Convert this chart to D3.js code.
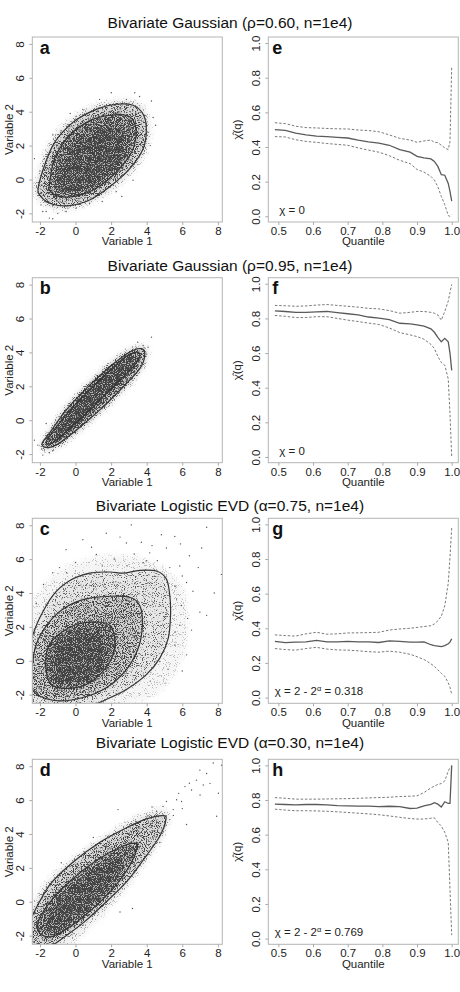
<!DOCTYPE html>
<html>
<head>
<meta charset="utf-8">
<script src="https://cdnjs.cloudflare.com/ajax/libs/d3/7.8.5/d3.min.js"></script>
<style>
  body { margin: 0; background: #fff; }
  svg { display: block; }
</style>
</head>
<body>
<svg id="chart"></svg>
<script>
// ---------- data ----------
const titles = [
  'Bivariate Gaussian (\u03C1=0.60, n=1e4)',
  'Bivariate Gaussian (\u03C1=0.95, n=1e4)',
  'Bivariate Logistic EVD (\u03B1=0.75, n=1e4)',
  'Bivariate Logistic EVD (\u03B1=0.30, n=1e4)'
];
const scatterLetters = ['a', 'b', 'c', 'd'];
const chiLetters = ['e', 'f', 'g', 'h'];

const varTicks = [-2, 0, 2, 4, 6, 8];
const varXDomain = [-2.43, 8.25];
const varYDomain = [-2.51, 8.41];
const quantileTicks = [0.5, 0.6, 0.7, 0.8, 0.9, 1.0];
const chiTicks = [0, 0.2, 0.4, 0.6, 0.8, 1.0];
const quantileDomain = [0.471, 1.019];
const chiDomain = [-0.033, 1.035];

// panel a: density contours + cloud outline (variable 1, variable 2)
const contourA2 = [[-2.07,-0.33],[-1.28,2.0],[-0.15,3.37],[1.17,4.14],[2.29,4.44],[3.23,4.38],[3.80,3.85],[3.98,2.98],[3.80,1.81],[3.05,0.64],[1.92,-0.43],[0.79,-1.21],[-0.34,-1.54],[-1.28,-1.46],[-1.94,-1.01]];
const contourA1 = [[-1.47,-0.33],[-1.18,1.23],[-0.34,2.59],[0.79,3.46],[1.92,3.79],[2.95,3.75],[3.33,3.27],[3.38,2.39],[3.05,1.42],[2.11,0.25],[0.98,-0.62],[-0.15,-1.01],[-1.09,-0.95],[-1.47,-0.62]];
const haloA = [[-2.3,-0.4],[-1.5,2.1],[-0.3,3.6],[1.1,4.4],[2.3,4.7],[3.4,4.6],[4.0,4.0],[4.2,3.0],[4.0,1.7],[3.2,0.4],[2.0,-0.7],[0.8,-1.4],[-0.4,-1.8],[-1.4,-1.7],[-2.1,-1.2]];
const coreA = [[-1.0,-0.3],[-0.8,0.9],[-0.1,2.0],[0.9,2.8],[2.0,3.1],[2.7,2.8],[2.8,1.9],[2.3,0.8],[1.3,-0.1],[0.2,-0.6],[-0.6,-0.7]];
const densityA = [0.22, 0.55, 0.8, 0.97];
const sparseA = [[2.01,5.12],[3.33,5.12],[4.27,4.63],[4.36,3.66],[4.08,2.78],[-1.28,2.63],[-1.75,1.23],[-2.31,1.23],[-1.94,-1.5],[-1.65,-1.89],[-1.28,-2.32],[0.04,-1.69],[-0.53,-1.89],[3.98,2.39],[2.86,4.73],[1.35,4.73],[0.41,4.14],[-0.81,2.88],[3.23,-0.04],[2.29,-0.72],[0.79,-1.4],[-1.0,-2.0],[4.5,3.2],[3.6,4.9],[-2.0,0.5],[2.6,-1.0],[1.5,-1.3],[-0.3,3.9],[4.2,2.0],[-1.84,-1.89],[-1.47,-2.28],[-0.43,-1.69]];

// panel b
const contourB2 = [[-1.88,-1.37],[-1.47,-0.78],[-0.53,0.59],[0.6,1.86],[1.92,3.14],[3.05,4.02],[3.7,4.22],[3.89,3.82],[3.61,3.04],[2.67,1.96],[1.35,0.59],[0.04,-0.59],[-1.09,-1.47],[-1.65,-1.61]];
const contourB1 = [[-1.65,-1.27],[-1.0,-0.29],[0.04,0.98],[1.35,2.35],[2.67,3.63],[3.42,4.02],[3.61,3.76],[3.23,3.14],[2.11,1.96],[0.79,0.59],[-0.34,-0.49],[-1.28,-1.33]];
const haloB = [[-2.0,-1.6],[-1.6,-0.8],[-0.7,0.6],[0.5,2.0],[1.8,3.3],[3.0,4.2],[3.8,4.4],[4.1,4.0],[3.8,3.1],[2.9,1.9],[1.5,0.5],[0.2,-0.7],[-0.9,-1.6],[-1.6,-1.8]];
const coreB = [[-1.3,-0.9],[-0.5,0.4],[0.6,1.8],[1.8,3.0],[2.9,3.7],[3.2,3.5],[2.6,2.4],[1.4,1.0],[0.2,-0.3],[-0.9,-1.2]];
const densityB = [0.3, 0.7, 0.9, 1.0];
const sparseB = [[-2.31,-1.18],[-2.12,-1.47],[-1.84,-2.06],[-1.47,-1.92],[-1.28,-1.8],[4.08,4.31],[4.27,4.9],[3.8,4.41],[3.23,2.35],[-1.65,-0.2],[-1.9,-1.7],[4.0,3.9],[-1.5,-1.5],[3.5,4.6]];

// panel c (outer contour runs off the plot region)
const contourC3 = [[-2.69,0.35],[-2.46,1.32],[-2.03,2.49],[-1.28,3.85],[-0.34,4.72],[0.79,5.17],[1.92,5.24],[2.67,5.17],[3.61,5.34],[4.55,5.3],[5.11,4.82],[5.3,3.84],[5.34,2.68],[5.21,1.32],[4.74,0.16],[3.98,-0.82],[2.86,-1.69],[1.54,-2.37],[0.6,-2.76]];
const contourC2 = [[-2.46,-0.72],[-2.22,0.93],[-1.47,2.29],[-0.53,3.17],[0.6,3.65],[1.92,3.81],[3.05,3.75],[3.61,3.26],[3.76,2.10],[3.52,0.74],[2.86,-0.52],[1.73,-1.59],[0.41,-2.17],[-0.9,-2.37],[-2.03,-2.08],[-2.46,-1.59]];
const contourC1 = [[-1.65,-0.52],[-1.56,0.74],[-1.0,1.51],[0.04,2.14],[1.17,2.29],[1.92,2.10],[2.2,1.32],[2.11,0.35],[1.54,-0.62],[0.6,-1.40],[-0.53,-1.63],[-1.37,-1.40]];
const haloC = [[-2.6,-2.5],[-2.6,2.5],[-1.5,4.8],[0,5.8],[2,6.2],[4,6.0],[5.7,4.8],[6.3,3],[6.1,0.5],[5,-1.5],[3,-2.5]];
const coreC = [[-1.3,-0.8],[-1.2,0.6],[-0.6,1.3],[0.4,1.7],[1.2,1.6],[1.7,0.8],[1.5,-0.3],[0.8,-1.1],[-0.3,-1.4],[-1.0,-1.3]];
const densityC = [0.13, 0.32, 0.58, 0.82, 0.97];
const sparseC = [[3.14,8.02],[7.37,7.88],[7.09,6.66],[8.2,5.1],[4.83,7.44],[5.58,7.34],[5.11,6.66],[3.8,5.79],[2.86,6.95],[-0.53,6.56],[1.17,6.27],[5.86,5.59],[6.24,4.62],[6.99,2.87],[6.52,1.81],[5.86,2.1],[6.24,0.35],[5.96,3.26],[7.37,2.68],[-1.28,5.2],[-0.9,5.5],[4.17,6.37],[1.73,7.53],[0.41,7.15],[4.55,4.23],[5.68,3.65],[5.58,0.93],[4.74,-0.04],[2.2,6.0],[3.3,6.3],[4.6,5.9],[5.3,5.5],[6.6,4.1],[6.3,2.5],[5.6,1.7],[6.0,-0.6],[5.2,-0.5],[4.2,-1.2],[0.0,5.8],[-1.8,4.5],[-2.2,3.4],[0.9,6.7],[2.5,7.3],[3.7,7.0],[6.9,5.5],[7.8,4.0],[6.4,6.2],[4.0,5.9],[5.0,4.9],[5.6,4.4],[6.0,5.0],[2.9,5.6],[1.5,5.6],[-0.5,5.2],[4.3,6.8],[5.9,6.9]];

// panel d (outer contour runs off the plot region)
const contourD2 = [[-2.69,-1.3],[-2.46,-0.87],[-1.47,0.97],[-0.15,2.33],[1.35,3.5],[2.86,4.37],[3.98,4.89],[4.92,5.09],[5.08,4.85],[4.74,3.88],[3.98,2.72],[2.86,1.17],[1.54,-0.19],[0.41,-1.26],[-0.71,-2.14],[-1.3,-2.6],[-1.6,-2.9]];
const contourD1 = [[-2.12,-1.55],[-2.03,-0.97],[-1.28,0.19],[-0.15,1.36],[1.17,2.43],[2.48,3.2],[3.33,3.46],[3.46,3.2],[3.05,2.14],[2.11,0.78],[0.98,-0.39],[-0.15,-1.36],[-1.28,-2.04],[-1.94,-1.94]];
const haloD = [[-2.6,-2.6],[-2.6,-0.5],[-1.6,1.2],[0,2.7],[1.8,4.0],[3.5,5.1],[4.8,5.5],[5.3,5.0],[4.8,3.6],[3.7,2.0],[2.2,0.0],[0.8,-1.5],[-0.6,-2.6]];
const coreD = [[-1.6,-1.5],[-1.4,-0.6],[-0.6,0.5],[0.5,1.5],[1.7,2.3],[2.5,2.5],[2.4,1.7],[1.5,0.4],[0.5,-0.6],[-0.5,-1.5],[-1.2,-1.9]];
const densityD = [0.2, 0.52, 0.8, 0.97];
const sparseD = [[7.74,8.19],[8.21,8.06],[6.99,7.77],[7.37,7.57],[6.8,7.18],[7.18,6.89],[7.56,6.99],[8.03,6.41],[7.93,5.05],[6.52,6.6],[6.15,6.8],[5.68,6.02],[5.11,5.92],[5.96,5.92],[4.92,5.63],[5.49,5.44],[4.55,5.34],[5.3,4.85],[5.02,4.47],[4.74,3.5],[2.39,5.44],[6.24,4.56],[-1.84,-2.14],[-2.22,-1.75],[5.8,6.4],[6.4,7.0],[7.0,6.3],[5.5,5.1],[6.0,5.5],[4.3,5.6],[-0.8,2.3],[1.0,3.8],[3.2,-0.4],[2.5,-0.6]];

// chi(q) estimates with the dashed confidence limits
const quantiles = [0.49,0.52,0.55,0.58,0.61,0.64,0.67,0.70,0.73,0.76,0.79,0.82,0.85,0.88,0.90,0.92,0.94,0.95,0.96,0.97,0.98,0.99,0.995,1.0];
const chiE   = [0.50,0.496,0.48,0.47,0.463,0.46,0.456,0.452,0.44,0.43,0.422,0.41,0.385,0.37,0.346,0.337,0.331,0.317,0.288,0.24,0.237,0.19,0.144,0.087];
const chiEHi = [0.54,0.535,0.52,0.512,0.51,0.507,0.505,0.504,0.498,0.495,0.488,0.47,0.45,0.44,0.427,0.435,0.44,0.427,0.425,0.41,0.395,0.385,0.43,0.865];
const chiELo = [0.46,0.458,0.442,0.432,0.427,0.42,0.415,0.41,0.395,0.382,0.37,0.35,0.323,0.304,0.27,0.255,0.23,0.21,0.17,0.115,0.067,0.004,0.0,0.01];
const chiF   = [0.844,0.84,0.835,0.835,0.838,0.84,0.833,0.827,0.82,0.808,0.802,0.793,0.772,0.768,0.763,0.755,0.74,0.72,0.69,0.665,0.685,0.665,0.6,0.50];
const chiFHi = [0.875,0.873,0.87,0.872,0.877,0.88,0.875,0.87,0.865,0.858,0.855,0.845,0.83,0.835,0.84,0.84,0.835,0.83,0.82,0.79,0.84,0.9,0.95,0.996];
const chiFLo = [0.817,0.812,0.805,0.805,0.81,0.81,0.80,0.79,0.782,0.773,0.765,0.745,0.718,0.705,0.695,0.68,0.65,0.626,0.58,0.545,0.53,0.45,0.25,0.0];
const chiG   = [0.325,0.317,0.32,0.322,0.33,0.322,0.322,0.325,0.322,0.322,0.318,0.327,0.325,0.32,0.32,0.322,0.305,0.30,0.297,0.294,0.30,0.311,0.32,0.34];
const chiGHi = [0.362,0.358,0.355,0.368,0.377,0.366,0.368,0.373,0.374,0.375,0.377,0.39,0.396,0.40,0.405,0.41,0.415,0.425,0.443,0.47,0.53,0.66,0.81,0.98];
const chiGLo = [0.283,0.277,0.274,0.283,0.29,0.28,0.275,0.274,0.27,0.265,0.262,0.268,0.262,0.25,0.236,0.22,0.195,0.18,0.16,0.14,0.123,0.085,0.06,0.019];
const chiH   = [0.776,0.774,0.772,0.774,0.774,0.772,0.768,0.766,0.765,0.765,0.762,0.764,0.762,0.751,0.753,0.766,0.775,0.785,0.776,0.76,0.79,0.78,0.78,1.0];
const chiHHi = [0.814,0.81,0.805,0.805,0.805,0.806,0.807,0.808,0.81,0.812,0.814,0.816,0.82,0.822,0.824,0.843,0.87,0.88,0.89,0.895,0.91,0.967,0.985,0.996];
const chiHLo = [0.747,0.742,0.738,0.738,0.737,0.735,0.732,0.728,0.724,0.72,0.715,0.708,0.70,0.693,0.69,0.69,0.695,0.697,0.67,0.65,0.613,0.556,0.287,0.02];

const chiNotes = [
  { main: '\u03C7 = 0' },
  { main: '\u03C7 = 0' },
  { main: '\u03C7 = 2 - 2', sup: '\u03B1', tail: ' = 0.318' },
  { main: '\u03C7 = 2 - 2', sup: '\u03B1', tail: ' = 0.769' }
];

// ---------- layout ----------
const width = 460, height = 992;
const rowTop = [37, 277.7, 518.3, 759.3];
const titleBase = [27.5, 271, 510.5, 748];
const boxW = 190, boxH = 185;
const leftX = 32.3, rightX = 268.3;
const fontFamily = '"Liberation Sans", Arial, Helvetica, sans-serif';

const scatterPanels = [
  { shapes: [haloA, contourA2, contourA1, coreA], density: densityA, lines: [contourA2, contourA1], closed: [true, true], points: sparseA },
  { shapes: [haloB, contourB2, contourB1, coreB], density: densityB, lines: [contourB2, contourB1], closed: [true, true], points: sparseB },
  { shapes: [haloC, contourC3.concat([[-2.9, -3.0]]), contourC2, contourC1, coreC], density: densityC, lines: [contourC3, contourC2, contourC1], closed: [false, true, true], points: sparseC },
  { shapes: [haloD, contourD2.concat([[-2.9, -3.0]]), contourD1, coreD], density: densityD, lines: [contourD2, contourD1], closed: [false, true], points: sparseD }
];
const chiPanels = [
  { est: chiE, lo: chiELo, hi: chiEHi, noteX: 11 },
  { est: chiF, lo: chiFLo, hi: chiFHi, noteX: 11 },
  { est: chiG, lo: chiGLo, hi: chiGHi, noteX: 6.5 },
  { est: chiH, lo: chiHLo, hi: chiHHi, noteX: 6.5 }
];

const svg = d3.select('#chart')
  .attr('width', width)
  .attr('height', height)
  .style('font-family', fontFamily);

svg.append('rect').attr('width', width).attr('height', height).attr('fill', '#fff');

const defs = svg.append('defs');

// stipple texture so the filled density regions read as a cloud of points
const grain = defs.append('filter')
  .attr('id', 'grain')
  .attr('filterUnits', 'userSpaceOnUse')
  .attr('x', 0).attr('y', 0).attr('width', width).attr('height', height)
  .attr('color-interpolation-filters', 'sRGB');
grain.append('feColorMatrix').attr('in', 'SourceGraphic').attr('type', 'luminanceToAlpha').attr('result', 'dens');
grain.append('feGaussianBlur').attr('in', 'dens').attr('stdDeviation', 2.5).attr('result', 'soft');
grain.append('feTurbulence').attr('type', 'fractalNoise').attr('baseFrequency', 1.1)
  .attr('numOctaves', 1).attr('seed', 7).attr('result', 'noise');
grain.append('feColorMatrix').attr('in', 'noise').attr('type', 'matrix')
  .attr('values', '0 0 0 0 0  0 0 0 0 0  0 0 0 0 0  0 0 0 3 -1').attr('result', 'speck');
grain.append('feComposite').attr('in', 'soft').attr('in2', 'speck').attr('operator', 'arithmetic')
  .attr('k1', 0).attr('k2', 2.6).attr('k3', 2.6).attr('k4', -2.6).attr('result', 'dots');
grain.append('feComponentTransfer').attr('in', 'soft').attr('result', 'haze')
  .append('feFuncA').attr('type', 'linear').attr('slope', 0.4);
grain.append('feComposite').attr('in', 'dots').attr('in2', 'haze').attr('operator', 'over').attr('result', 'mix');
grain.append('feColorMatrix').attr('in', 'mix').attr('type', 'matrix')
  .attr('values', '0 0 0 0 0.22  0 0 0 0 0.22  0 0 0 0 0.22  0 0 0 0.95 0');

function styleAxis(g) {
  g.attr('font-family', fontFamily).attr('font-size', 11.5);
  g.select('.domain').remove();
  g.selectAll('.tick line').attr('stroke', '#aaa');
  g.selectAll('.tick text').attr('fill', '#222');
}

function rotateLabels(g) {
  g.selectAll('.tick text')
    .attr('x', null).attr('dy', null)
    .attr('text-anchor', 'middle')
    .attr('transform', 'translate(-8,0) rotate(-90)');
}

function drawBox(x0, top) {
  svg.append('rect')
    .attr('x', x0).attr('y', top)
    .attr('width', boxW).attr('height', boxH)
    .attr('fill', 'none')
    .attr('stroke', '#b5b5b5')
    .attr('stroke-width', 1);
}

function drawScatter(row) {
  const p = scatterPanels[row];
  const top = rowTop[row];
  const x = d3.scaleLinear().domain(varXDomain).range([leftX, leftX + boxW]);
  const y = d3.scaleLinear().domain(varYDomain).range([top + boxH, top]);

  const clipId = 'clip-' + scatterLetters[row];
  defs.append('clipPath').attr('id', clipId)
    .append('rect').attr('x', leftX).attr('y', top).attr('width', boxW).attr('height', boxH);

  const plot = svg.append('g').attr('clip-path', 'url(#' + clipId + ')');

  const closedLine = d3.line().x(d => x(d[0])).y(d => y(d[1])).curve(d3.curveCardinalClosed.tension(0));
  const openLine = d3.line().x(d => x(d[0])).y(d => y(d[1])).curve(d3.curveCardinal.tension(0));

  plot.append('g').attr('filter', 'url(#grain)')
    .selectAll('path')
    .data(p.shapes)
    .enter()
    .append('path')
    .attr('d', closedLine)
    .attr('fill', (d, i) => {
      const v = Math.round(255 * p.density[i]);
      return d3.rgb(v, v, v).toString();
    });

  plot.append('g')
    .selectAll('circle')
    .data(p.points)
    .enter()
    .append('circle')
    .attr('cx', d => x(d[0]))
    .attr('cy', d => y(d[1]))
    .attr('r', 0.7)
    .attr('fill', '#555');

  plot.append('g')
    .selectAll('path')
    .data(p.lines)
    .enter()
    .append('path')
    .attr('d', (d, i) => p.closed[i] ? closedLine(d) : openLine(d))
    .attr('fill', 'none')
    .attr('stroke', '#333')
    .attr('stroke-width', 1.2);

  drawBox(leftX, top);

  svg.append('g')
    .attr('transform', 'translate(0,' + (top + boxH) + ')')
    .call(d3.axisBottom(x).tickValues(varTicks).tickSize(3).tickPadding(2).tickFormat(d => String(d)))
    .call(styleAxis);

  svg.append('g')
    .attr('transform', 'translate(' + leftX + ',0)')
    .call(d3.axisLeft(y).tickValues(varTicks).tickSize(3).tickFormat(d => String(d)))
    .call(styleAxis)
    .call(rotateLabels);

  svg.append('text')
    .attr('x', leftX + boxW / 2).attr('y', top + boxH + 23.3)
    .attr('text-anchor', 'middle').attr('font-size', 11.5).attr('fill', '#222')
    .text('Variable 1');

  svg.append('text')
    .attr('transform', 'translate(' + (leftX - 19.6) + ',' + (top + boxH / 2) + ') rotate(-90)')
    .attr('text-anchor', 'middle').attr('font-size', 11.5).attr('fill', '#222')
    .text('Variable 2');

  svg.append('text')
    .attr('x', leftX + 7.5).attr('y', top + 16.5)
    .attr('font-size', 18).attr('font-weight', 'bold').attr('fill', '#111')
    .text(scatterLetters[row]);
}

function drawChi(row) {
  const p = chiPanels[row];
  const top = rowTop[row];
  const x = d3.scaleLinear().domain(quantileDomain).range([rightX, rightX + boxW]);
  const y = d3.scaleLinear().domain(chiDomain).range([top + boxH, top]);

  const clipId = 'clip-' + chiLetters[row];
  defs.append('clipPath').attr('id', clipId)
    .append('rect').attr('x', rightX).attr('y', top).attr('width', boxW).attr('height', boxH);
  const plot = svg.append('g').attr('clip-path', 'url(#' + clipId + ')');

  const line = d3.line().x((d, i) => x(quantiles[i])).y(d => y(d));

  [p.hi, p.lo].forEach(series => {
    plot.append('path')
      .datum(series)
      .attr('d', line)
      .attr('fill', 'none')
      .attr('stroke', '#7a7a7a')
      .attr('stroke-width', 1)
      .attr('stroke-dasharray', '2.5,1.8');
  });

  plot.append('path')
    .datum(p.est)
    .attr('d', line)
    .attr('fill', 'none')
    .attr('stroke', '#5a5a5a')
    .attr('stroke-width', 1.3);

  drawBox(rightX, top);

  svg.append('g')
    .attr('transform', 'translate(0,' + (top + boxH) + ')')
    .call(d3.axisBottom(x).tickValues(quantileTicks).tickSize(3).tickPadding(2).tickFormat(d3.format('.1f')))
    .call(styleAxis);

  svg.append('g')
    .attr('transform', 'translate(' + rightX + ',0)')
    .call(d3.axisLeft(y).tickValues(chiTicks).tickSize(3).tickFormat(d3.format('.1f')))
    .call(styleAxis)
    .call(rotateLabels);

  svg.append('text')
    .attr('x', rightX + boxW / 2).attr('y', top + boxH + 23.3)
    .attr('text-anchor', 'middle').attr('font-size', 11.5).attr('fill', '#222')
    .text('Quantile');

  svg.append('text')
    .attr('transform', 'translate(' + (rightX - 27) + ',' + (top + boxH / 2) + ') rotate(-90)')
    .attr('text-anchor', 'middle').attr('font-size', 11.5).attr('fill', '#222')
    .text('\u03C7\u0302(q)');

  svg.append('text')
    .attr('x', rightX + 4).attr('y', top + 16.5)
    .attr('font-size', 18).attr('font-weight', 'bold').attr('fill', '#111')
    .text(chiLetters[row]);

  const note = chiNotes[row];
  const t = svg.append('text')
    .attr('x', rightX + p.noteX).attr('y', top + boxH - 8)
    .attr('font-size', 11.5).attr('fill', '#222');
  t.append('tspan').text(note.main);
  if (note.sup) {
    t.append('tspan').attr('font-size', 7.5).attr('dy', -4.5).text(note.sup);
    t.append('tspan').attr('dy', 4.5).text(note.tail);
  }
}

titles.forEach((title, row) => {
  svg.append('text')
    .attr('x', width / 2).attr('y', titleBase[row])
    .attr('text-anchor', 'middle')
    .attr('font-size', 15.5)
    .attr('fill', '#111')
    .text(title);
  drawScatter(row);
  drawChi(row);
});
</script>
</body>
</html>
